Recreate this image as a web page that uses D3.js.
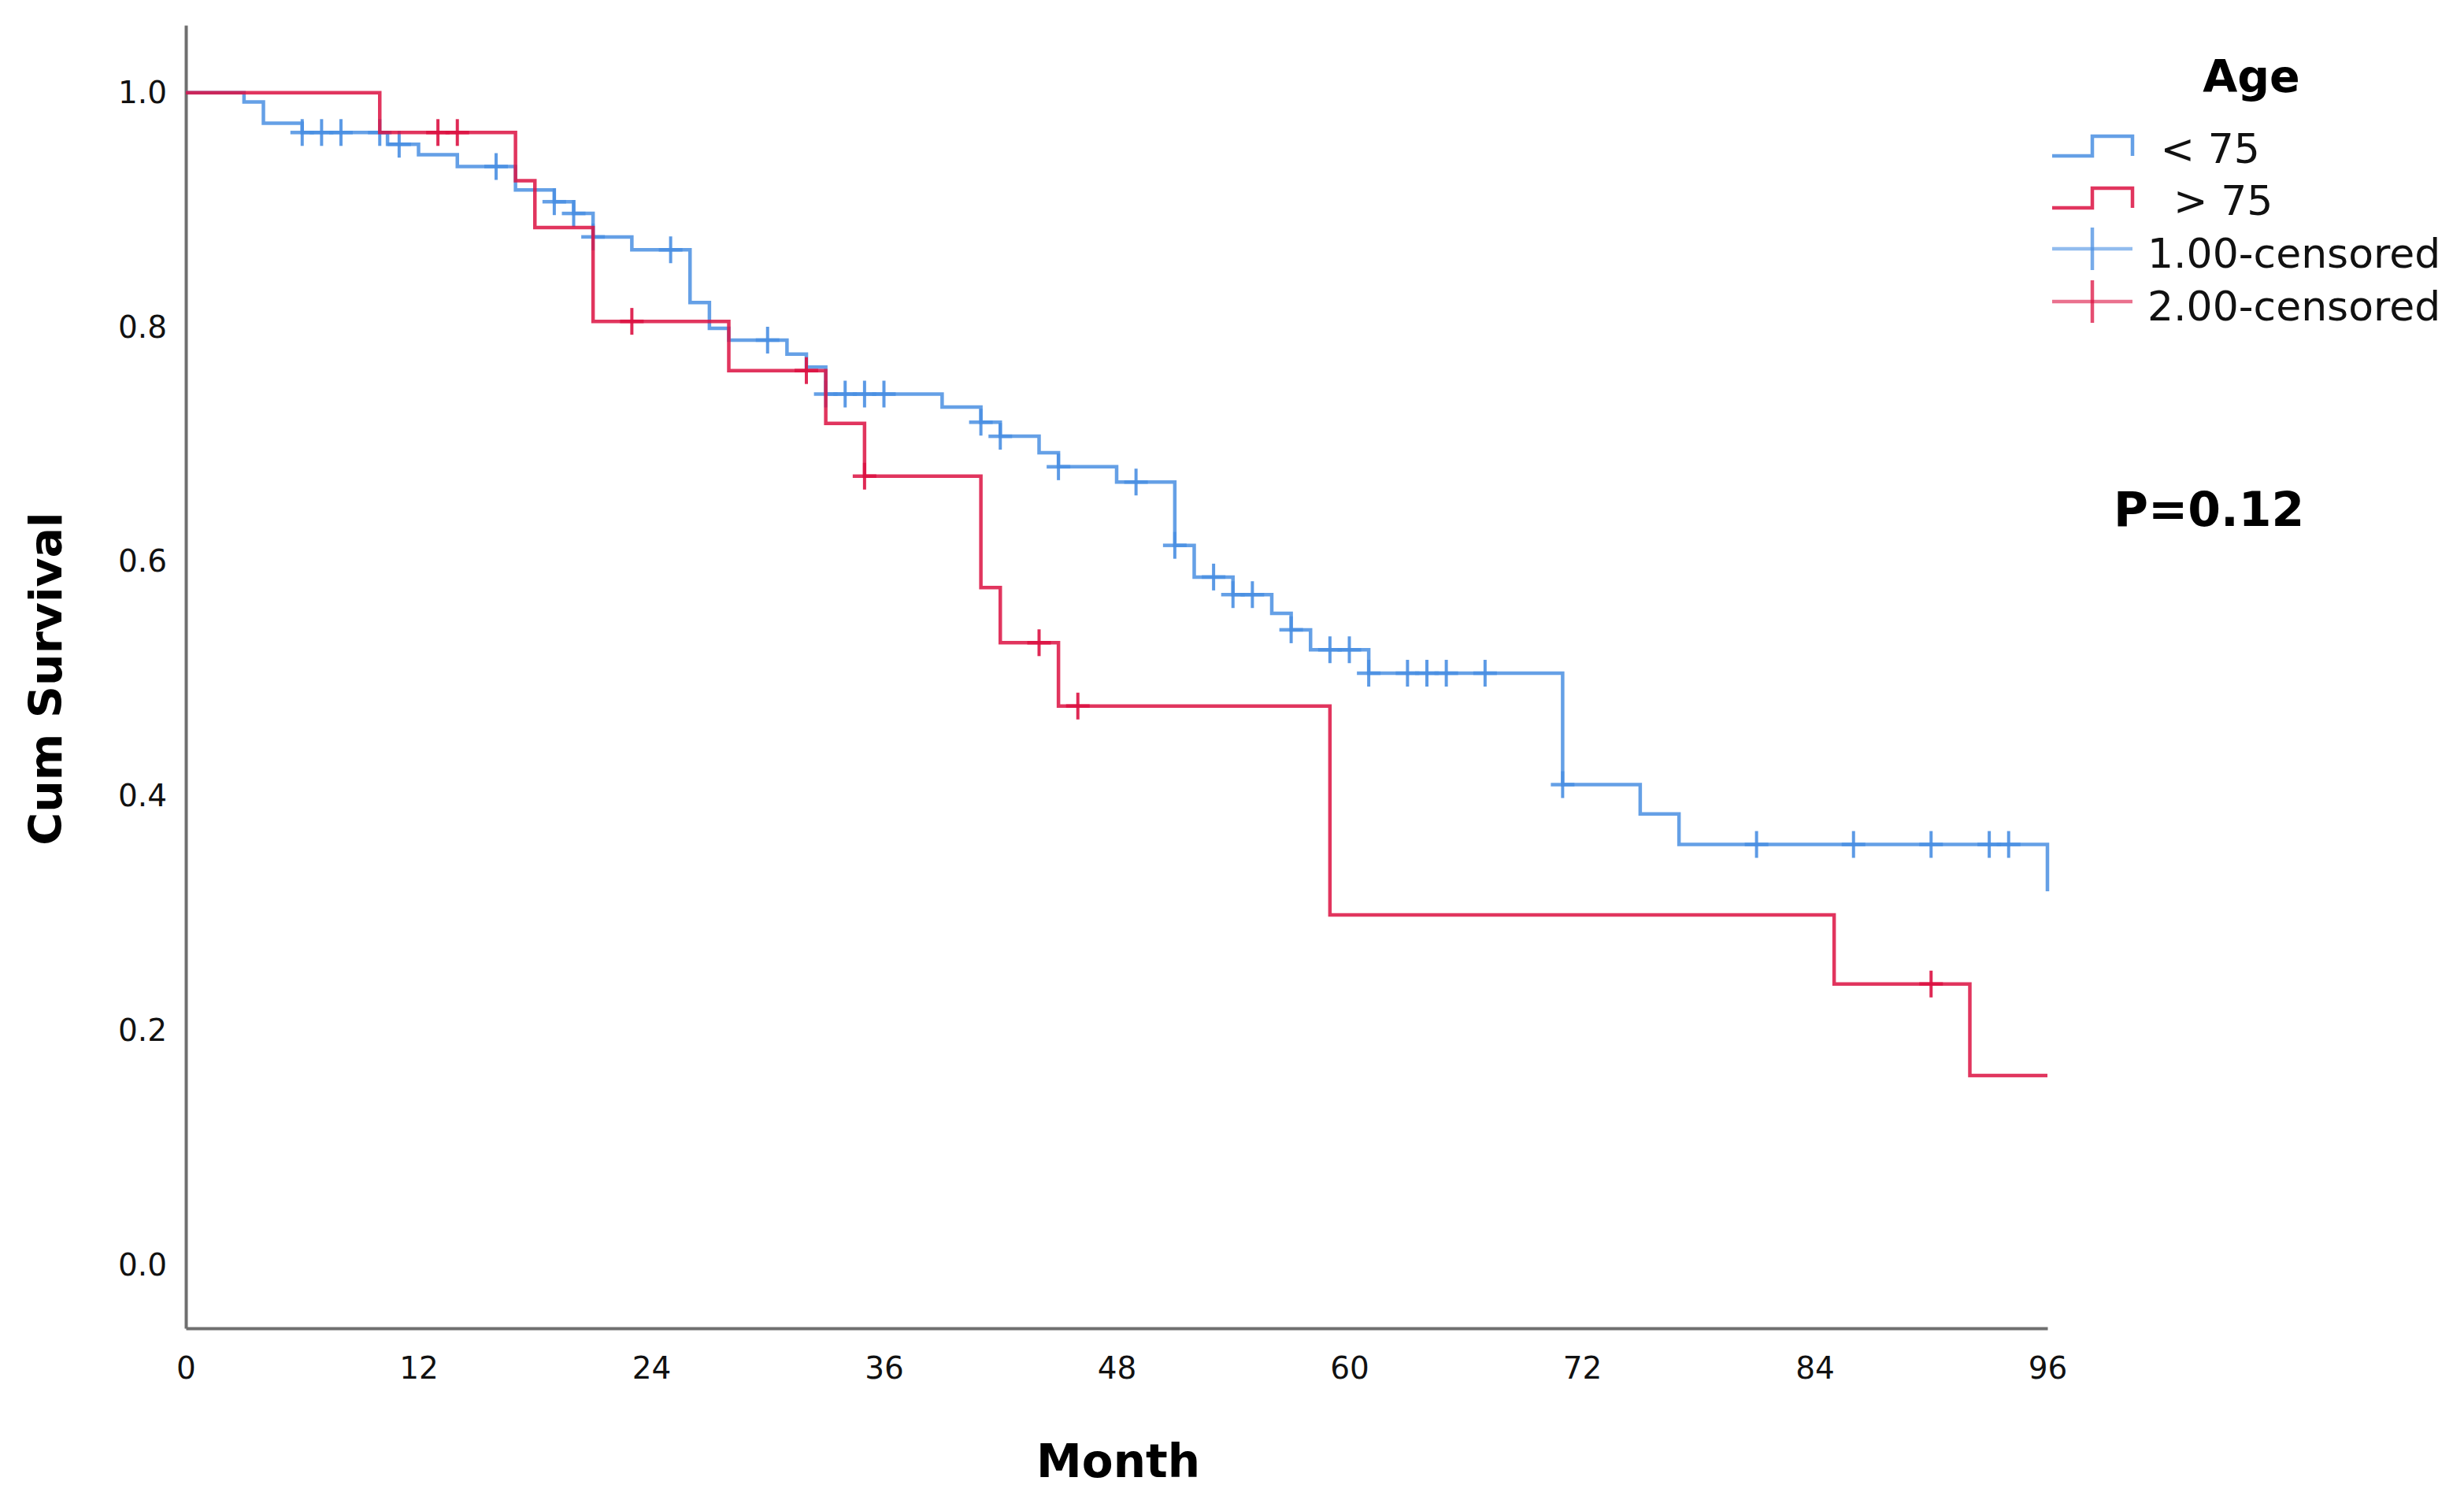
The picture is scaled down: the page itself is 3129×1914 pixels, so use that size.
<!DOCTYPE html>
<html>
  <head>
    <title>Cum Survival by Age</title>
    <script src="https://d3js.org/d3.v7.min.js"></script>
    <style>
      body { margin: 0; background-color: white; }
      text { font-family: 'DejaVu Sans', sans-serif; }
    </style>
  </head>
  <body>
    <svg id="canvas" width="3129" height="1914"></svg>
    <script>
      // survival steps (month of event, survival after it)
      const youngTimes = [0, 3, 4, 6, 10.4, 12, 14, 17, 19, 20, 21, 23, 26, 27, 28, 31, 32, 33, 39, 41, 42, 44, 45, 48, 51, 52, 54, 56, 57, 58, 61, 71, 75, 77, 96]
      const youngSurv = [1, 0.992, 0.974, 0.966, 0.956, 0.947, 0.937, 0.917, 0.907, 0.897, 0.877, 0.866, 0.821, 0.799, 0.789, 0.777, 0.766, 0.743, 0.732, 0.719, 0.707, 0.693, 0.681, 0.668, 0.614, 0.587, 0.572, 0.556, 0.542, 0.525, 0.505, 0.41, 0.385, 0.359, 0.319]
      const youngCensored = [6, 7, 8, 10, 11, 16, 19, 20, 21, 25, 30, 33, 34, 35, 36, 41, 42, 45, 49, 51, 53, 54, 55, 57, 59, 60, 61, 63, 64, 65, 67, 71, 81, 86, 90, 93, 94]

      const oldTimes = [0, 10, 17, 18, 21, 28, 33, 35, 41, 42, 45, 59, 85, 92]
      const oldSurv = [1, 0.966, 0.925, 0.885, 0.805, 0.763, 0.718, 0.673, 0.578, 0.531, 0.477, 0.299, 0.24, 0.162]
      const oldCensored = [13, 14, 23, 32, 35, 44, 46, 90]
      const oldEnd = 96

      const xTicks = [0, 12, 24, 36, 48, 60, 72, 84, 96]
      const yTicks = [0, 0.2, 0.4, 0.6, 0.8, 1.0]
      const legendLabels = [' < 75', '  > 75', '1.00-censored', '2.00-censored']

      const blue = '#4a8fe2'
      const red = '#dc1242'
      const axisGrey = '#6f6f6f'
      const lw = 4.5

      let svg = d3.select('#canvas')

      let x = d3.scaleLinear().domain([0, 96]).range([236, 2600])
      let y = d3.scaleLinear().domain([-0.0535, 1.0575]).range([1687, 32])

      // axes
      let xAxis = svg.append('g')
        .attr('transform', `translate(0, ${y(-0.0535)})`)
        .call(d3.axisBottom(x).tickValues(xTicks).tickSize(0).tickSizeOuter(0).tickPadding(36))
      let yAxis = svg.append('g')
        .attr('transform', `translate(${x(0)}, 0)`)
        .call(d3.axisLeft(y).tickValues(yTicks).tickFormat(d3.format('.1f')).tickSize(0).tickSizeOuter(0).tickPadding(24))
      ;[xAxis, yAxis].forEach(a => {
        a.select('.domain').attr('stroke', axisGrey).attr('stroke-width', 4)
        a.selectAll('text').attr('font-size', 39).attr('fill', '#111')
          .attr('font-family', "'DejaVu Sans', sans-serif")
      })

      // step line through (time, surv) pairs
      const stepPath = (times, surv, endTime) => {
        let pts = times.map((t, i) => [t, surv[i]])
        if (endTime !== undefined) pts.push([endTime, surv[surv.length - 1]])
        return d3.line().x(d => x(d[0])).y(d => y(d[1])).curve(d3.curveStepAfter)(pts)
      }
      const survAt = (times, surv, t) => {
        let i = d3.bisectRight(times, t) - 1
        return surv[Math.max(i, 0)]
      }

      const groups = [
        { times: youngTimes, surv: youngSurv, cens: youngCensored, color: blue, end: undefined },
        { times: oldTimes, surv: oldSurv, cens: oldCensored, color: red, end: oldEnd }
      ]

      const cross = 15
      groups.forEach(gr => {
        let g = svg.append('g')
        g.append('path')
          .attr('d', stepPath(gr.times, gr.surv, gr.end))
          .attr('fill', 'none')
          .attr('stroke', gr.color)
          .attr('stroke-width', lw)
          .attr('stroke-opacity', 0.85)
        let c = g.selectAll('g.cens').data(gr.cens).enter().append('g')
          .attr('transform', d => `translate(${x(d)}, ${y(survAt(gr.times, gr.surv, d))})`)
        c.append('line').attr('x1', -cross).attr('x2', cross)
          .attr('stroke', gr.color).attr('stroke-width', lw).attr('stroke-opacity', 0.85)
        c.append('line').attr('y1', -cross - 2).attr('y2', cross + 2)
          .attr('stroke', gr.color).attr('stroke-width', lw - 0.5).attr('stroke-opacity', 0.9)
      })

      // axis titles
      svg.append('text')
        .attr('x', 1420).attr('y', 1876)
        .attr('text-anchor', 'middle')
        .attr('font-size', 58).attr('font-weight', 'bold')
        .text('Month')
      svg.append('text')
        .attr('transform', 'translate(78, 862) rotate(-90)')
        .attr('text-anchor', 'middle')
        .attr('font-size', 57).attr('font-weight', 'bold')
        .text('Cum Survival')

      // legend
      let lg = svg.append('g')
      lg.append('text')
        .attr('x', 2859).attr('y', 117)
        .attr('text-anchor', 'middle')
        .attr('font-size', 57).attr('font-weight', 'bold')
        .text('Age')

      const legendColors = [blue, red, blue, red]
      const rowY = [207, 273, 340, 407]
      legendLabels.forEach((lab, i) => {
        let base = rowY[i]
        let col = legendColors[i]
        if (i < 2) {
          let lo = base - 9, hi = base - 34
          lg.append('path')
            .attr('d', `M2606,${lo}H2657V${hi}H2708V${lo}`)
            .attr('fill', 'none').attr('stroke', col).attr('stroke-width', lw).attr('stroke-opacity', 0.85)
        } else {
          let cy = base - 24
          lg.append('line').attr('x1', 2606).attr('x2', 2708).attr('y1', cy).attr('y2', cy)
            .attr('stroke', col).attr('stroke-width', lw).attr('stroke-opacity', 0.6)
          lg.append('line').attr('x1', 2657).attr('x2', 2657).attr('y1', cy - 27).attr('y2', cy + 27)
            .attr('stroke', col).attr('stroke-width', lw).attr('stroke-opacity', 0.75)
        }
        lg.append('text')
          .attr('x', 2727).attr('y', base)
          .attr('font-size', 52)
          .style('white-space', 'pre')
          .attr('fill', '#111')
          .text(lab)
      })

      // p value
      svg.append('text')
        .attr('x', 2684).attr('y', 668)
        .attr('font-size', 60).attr('font-weight', 'bold')
        .text('P=0.12')
    </script>
  </body>
</html>
